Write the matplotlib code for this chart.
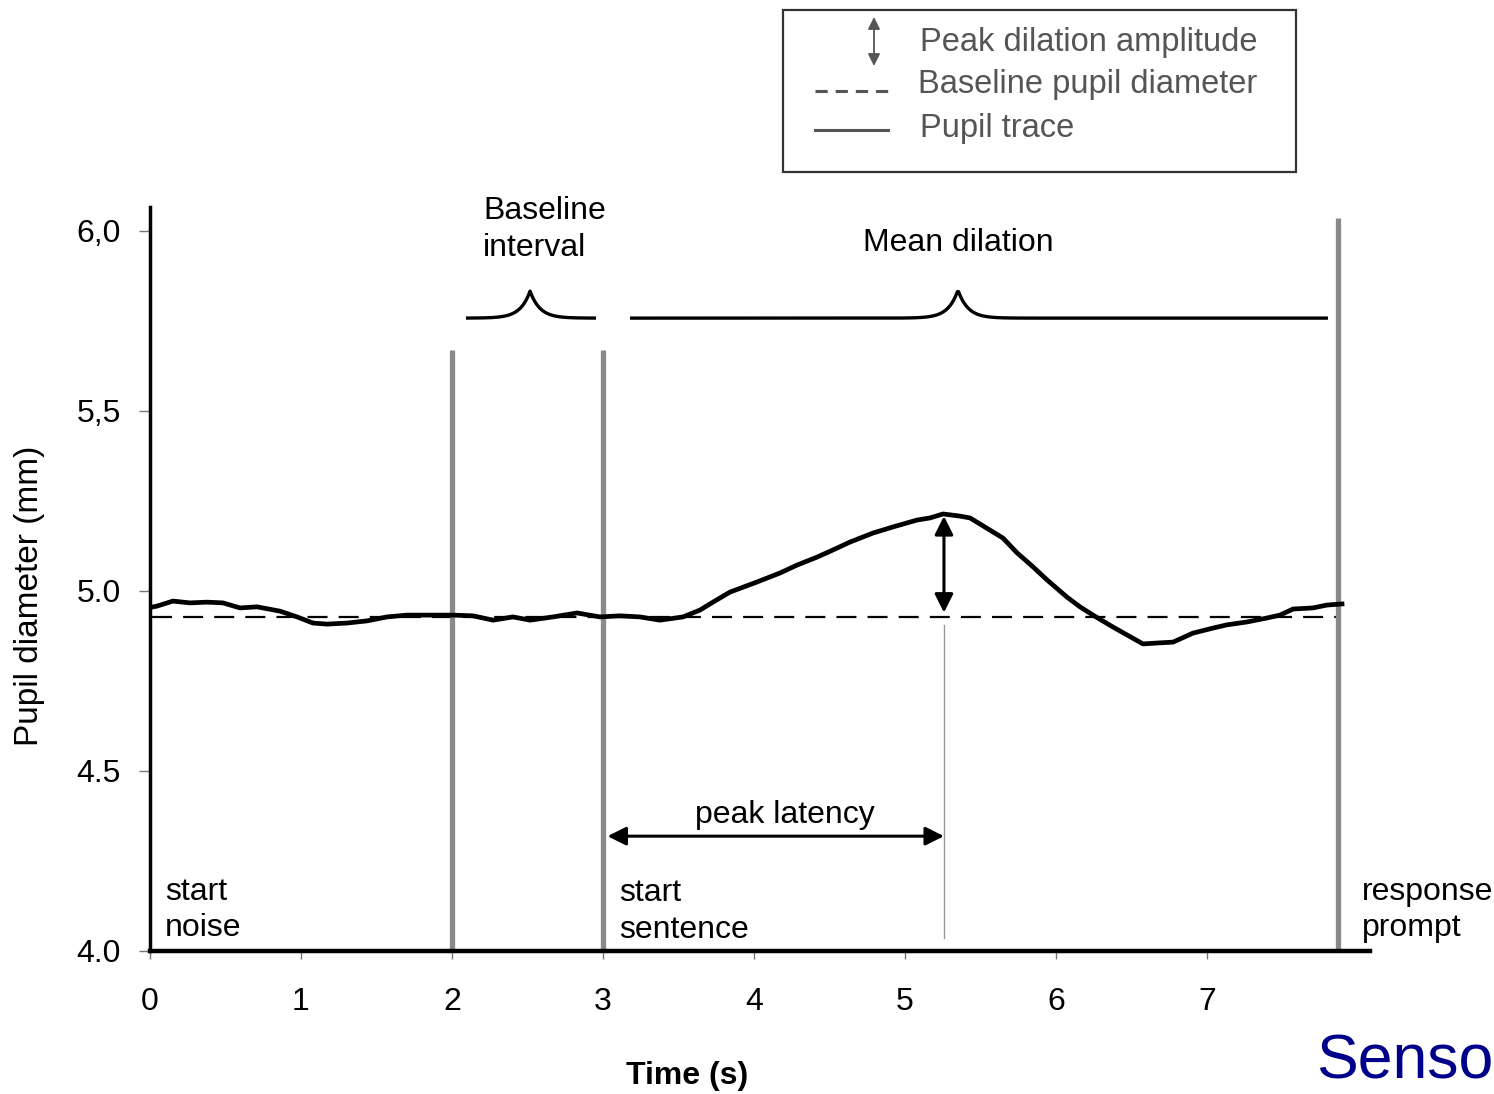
import numpy as np
import matplotlib
matplotlib.use("Agg")
import matplotlib.pyplot as plt
from matplotlib.patches import Rectangle, FancyArrowPatch
from matplotlib.lines import Line2D

plt.rcParams['font.family'] = ['Liberation Sans', 'DejaVu Sans']

# ---- data ----
time_s = [0.01, 0.046, 0.152, 0.265, 0.377, 0.483, 0.596, 0.709, 0.861, 0.974,
          1.079, 1.172, 1.305, 1.437, 1.570, 1.702, 1.834, 2.007, 2.139, 2.272,
          2.404, 2.517, 2.669, 2.828, 2.980, 3.113, 3.245, 3.377, 3.530, 3.642,
          3.728, 3.841, 4.020, 4.172, 4.285, 4.417, 4.523, 4.636, 4.788, 4.921,
          5.079, 5.166, 5.252, 5.364, 5.430, 5.497, 5.649, 5.742, 5.848, 5.940,
          6.073, 6.159, 6.245, 6.377, 6.470, 6.576, 6.689, 6.775, 6.907, 7.040,
          7.132, 7.265, 7.397, 7.483, 7.570, 7.702, 7.795, 7.894]
pupil_mm = [4.955, 4.958, 4.972, 4.967, 4.969, 4.967, 4.953, 4.956, 4.944, 4.928,
            4.911, 4.908, 4.911, 4.917, 4.928, 4.933, 4.933, 4.933, 4.931, 4.919,
            4.928, 4.919, 4.928, 4.939, 4.928, 4.931, 4.928, 4.919, 4.928, 4.947,
            4.969, 4.997, 5.025, 5.050, 5.072, 5.094, 5.114, 5.136, 5.161, 5.178,
            5.197, 5.203, 5.214, 5.208, 5.203, 5.186, 5.147, 5.106, 5.067, 5.031,
            4.983, 4.956, 4.933, 4.900, 4.878, 4.853, 4.856, 4.858, 4.883, 4.897,
            4.906, 4.914, 4.925, 4.933, 4.950, 4.953, 4.961, 4.964]
baseline_mm = 4.928
event_times = [2.0, 3.0, 7.87]          # start baseline, start sentence, response prompt
event_tops = [5.67, 5.67, 6.036]
peak_time = 5.258
peak_value = 5.213
xticks = [0, 1, 2, 3, 4, 5, 6, 7]
yticks = [4.0, 4.5, 5.0, 5.5, 6.0]
ytick_labels = ['4.0', '4.5', '5.0', '5,5', '6,0']

W, H = 1494, 1094
fig = plt.figure(figsize=(W / 100, H / 100), dpi=100)
ax = fig.add_axes([150 / W, 1 - 951 / H, 1220 / W, 744 / H])
ax.set_xlim(0, 1220 / 151)
ax.set_ylim(4.0, 4.0 + 744 / 360)

for s in ['top', 'right']:
    ax.spines[s].set_visible(False)
ax.spines['left'].set_linewidth(2.5)
ax.spines['bottom'].set_linewidth(3.2)
ax.spines['left'].set_zorder(5)
ax.spines['bottom'].set_zorder(5)

ax.set_xticks(xticks)
ax.set_xticklabels([str(v) for v in xticks])
ax.set_yticks(yticks)
ax.set_yticklabels(ytick_labels)
ax.tick_params(axis='y', length=8, width=1, color='#777777', pad=13, labelsize=23)
ax.tick_params(axis='x', length=6, width=1, color='#777777', pad=20, labelsize=23)

def fx(px):
    return px / W

def fy(py):
    return 1 - py / H

fig.text(fx(30), fy(596), 'Pupil diameter (mm)', fontsize=24, rotation=90,
         ha='center', va='center')
fig.text(fx(687), fy(1076), 'Time (s)', fontsize=23, fontweight='bold',
         ha='center', va='center')

# event lines
for t, top in zip(event_times, event_tops):
    ax.plot([t, t], [4.0, top], color='#8a8a8a', lw=3.8, solid_capstyle='butt', zorder=3)

# baseline dashed
bl, = ax.plot([0.01, 7.88], [baseline_mm, baseline_mm], color='black', lw=1.6, zorder=2)
bl.set_dashes((9, 5))

# pupil trace
ax.plot(time_s, pupil_mm, color='black', lw=3.4, zorder=4, solid_joinstyle='round')

# peak marker thin line
ax.plot([peak_time, peak_time], [4.906, 4.036], color='#999999', lw=1.0, zorder=2)

# peak amplitude arrow
ax.annotate('', xy=(peak_time, baseline_mm + 0.012), xytext=(peak_time, peak_value - 0.005),
            arrowprops=dict(arrowstyle='<|-|>', mutation_scale=28, lw=2.2, color='black',
                            shrinkA=0, shrinkB=0), zorder=6)

# peak latency arrow
ax.annotate('', xy=(3.03, 4.319), xytext=(peak_time, 4.319),
            arrowprops=dict(arrowstyle='<|-|>', mutation_scale=28, lw=2.2, color='black',
                            shrinkA=0, shrinkB=0))
ax.text(4.205, 4.378, 'peak latency', fontsize=23, ha='center', va='center')

# braces
def brace(x0, x1, xc, base, tip, w=0.065):
    xs = np.linspace(x0, x1, 600)
    ys = base + (tip - base) * np.exp(-np.abs(xs - xc) / w)
    ax.plot(xs, ys, color='black', lw=2.4, solid_capstyle='butt')

brace(2.093, 2.954, 2.517, 5.758, 5.833)
brace(3.179, 7.801, 5.351, 5.758, 5.836)

ax.text(2.205, 6.003, 'Baseline\ninterval', fontsize=23, ha='left', va='center', linespacing=1.3)
ax.text(5.351, 5.967, 'Mean dilation', fontsize=23, ha='center', va='center')

ax.text(0.10, 4.114, 'start\nnoise', fontsize=23, ha='left', va='center', linespacing=1.3)
ax.text(3.106, 4.110, 'start\nsentence', fontsize=23, ha='left', va='center', linespacing=1.3)
ax.text(8.026, 4.114, 'response\nprompt', fontsize=23, ha='left', va='center',
        linespacing=1.3, clip_on=False)

# legend drawn manually in figure pixels
fig.patches.append(Rectangle((fx(783), fy(172)), (1296 - 783) / W, (172 - 10) / H,
                             transform=fig.transFigure, fill=False, edgecolor='#333333', lw=1.6))
legend_grey = '#555555'
fig.patches.append(FancyArrowPatch((fx(874), fy(17)), (fx(874), fy(66)),
                                   transform=fig.transFigure, arrowstyle='<|-|>',
                                   mutation_scale=18, lw=1.3, color=legend_grey,
                                   shrinkA=0, shrinkB=0))
dl = Line2D([fx(815), fx(888)], [fy(91), fy(91)], transform=fig.transFigure,
            color=legend_grey, lw=2.2)
dl.set_dashes((4, 2.6))
fig.lines.append(dl)
fig.lines.append(Line2D([fx(815), fx(888)], [fy(130), fy(130)], transform=fig.transFigure,
                        color=legend_grey, lw=2.2))
fig.text(fx(920), fy(43), 'Peak dilation amplitude', fontsize=23.5, color=legend_grey,
         ha='left', va='center')
fig.text(fx(918), fy(85), 'Baseline pupil diameter', fontsize=23.5, color=legend_grey,
         ha='left', va='center')
fig.text(fx(920), fy(128), 'Pupil trace', fontsize=23.5, color=legend_grey,
         ha='left', va='center')

fig.text(fx(1493), fy(1062), 'Senso', fontsize=45, color='#00008b', ha='right', va='center')

fig.savefig('out.png', dpi=100)
